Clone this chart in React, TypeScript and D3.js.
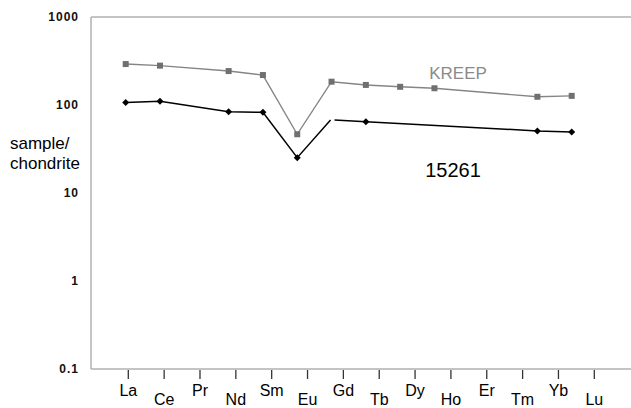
import React from 'react'
import * as d3 from 'd3'

// rare earth elements, as labelled along the bottom
const elements = ['La', 'Ce', 'Pr', 'Nd', 'Sm', 'Eu', 'Gd', 'Tb', 'Dy', 'Ho', 'Er', 'Tm', 'Yb', 'Lu']

// KREEP reference pattern (sample/chondrite)
const kreepElements = ['La', 'Ce', 'Nd', 'Sm', 'Eu', 'Gd', 'Tb', 'Dy', 'Ho', 'Yb', 'Lu']
const kreepValues = [292, 280, 243, 219, 46.5, 184, 169, 161, 155, 124, 127]

// sample 15261
const sampleElements = ['La', 'Ce', 'Nd', 'Sm', 'Eu', 'Gd', 'Tb', 'Yb', 'Lu']
const sampleValues = [107, 110, 84, 82.6, 25.2, 67.6, 64.6, 50.7, 49.3]
const sampleNoMarker = ['Gd']
const sampleBreakAt = 'Gd'

const yTicks = [0.1, 1, 10, 100, 1000]

const W = 631
const H = 408
const margin = {top: 17, right: 0, bottom: 39, left: 91}

export default function App() {
  const y = d3
    .scaleLog()
    .domain([0.1, 1000])
    .range([H - margin.bottom, margin.top])
  // the points sit on a slightly narrower grid than the labels
  const xData = d3.scalePoint().domain(elements).range([125.7, 571.7])
  const xAxis = d3.scalePoint().domain(elements).range([128.3, 594.3])

  const line = d3
    .line<[number, number]>()
    .x(d => d[0])
    .y(d => d[1])

  const kreepPts: [number, number][] = kreepElements.map((e, i) => [xData(e)!, y(kreepValues[i])])
  const samplePts: [number, number][] = sampleElements.map((e, i) => [xData(e)!, y(sampleValues[i])])

  // the sample line is broken at Gd
  const bi = sampleElements.indexOf(sampleBreakAt)
  const partA = samplePts.slice(0, bi + 1).map((p, i, a) => (i === a.length - 1 ? [p[0] - 1, p[1]] : p)) as [number, number][]
  const partB = samplePts.slice(bi).map((p, i) => (i === 0 ? [p[0] + 3, p[1]] : p)) as [number, number][]

  const bottom = H - margin.bottom
  const font = 'Liberation Sans, Arial, sans-serif'

  return (
    <svg width={W} height={H} style={{position: 'absolute', left: 0, top: 0, background: '#fff'}} fontFamily={font}>
      {/* frame */}
      <line x1={margin.left} x2={W} y1={margin.top} y2={margin.top} stroke="#b0b0b0" strokeWidth={1.5} />
      <line x1={margin.left} x2={W} y1={bottom} y2={bottom} stroke="#b0b0b0" strokeWidth={1.5} />
      <line x1={margin.left} x2={margin.left} y1={margin.top} y2={bottom} stroke="#b0b0b0" strokeWidth={1.5} />

      {/* y tick labels */}
      {yTicks.map(t => (
        <text key={t} x={79} y={y(t)} dy="0.35em" textAnchor="end" fontSize={12} fontWeight="bold" letterSpacing={1} fill="#111">
          {t}
        </text>
      ))}
      <text x={10} y={149} fontSize={17} fill="#000">sample/</text>
      <text x={10} y={169} fontSize={17} fill="#000">chondrite</text>

      {/* x ticks and labels */}
      {elements.map((e, i) => (
        <g key={e}>
          <line x1={xAxis(e)} x2={xAxis(e)} y1={bottom + 1} y2={bottom + 10} stroke="#333" strokeWidth={1.3} />
          <text x={xAxis(e)} y={i % 2 === 0 ? 396 : 404.5} textAnchor="middle" fontSize={16} fill="#000">
            {e}
          </text>
        </g>
      ))}

      {/* KREEP */}
      <path d={line(kreepPts)!} fill="none" stroke="#858585" strokeWidth={1.4} />
      {kreepPts.map((p, i) => (
        <rect key={i} x={p[0] - 3} y={p[1] - 3} width={6} height={6} fill="#707070" />
      ))}
      <text x={458} y={79} textAnchor="middle" fontSize={17} fill="#8a8a8a">KREEP</text>

      {/* 15261 */}
      <path d={line(partA)!} fill="none" stroke="#000" strokeWidth={1.5} />
      <path d={line(partB)!} fill="none" stroke="#000" strokeWidth={1.5} />
      {samplePts.map((p, i) =>
        sampleNoMarker.includes(sampleElements[i]) ? null : (
          <path key={i} d={`M${p[0]},${p[1] - 3.5}L${p[0] + 3.5},${p[1]}L${p[0]},${p[1] + 3.5}L${p[0] - 3.5},${p[1]}Z`} fill="#000" />
        )
      )}
      <text x={453} y={177} textAnchor="middle" fontSize={20} fill="#000">15261</text>
    </svg>
  )
}
